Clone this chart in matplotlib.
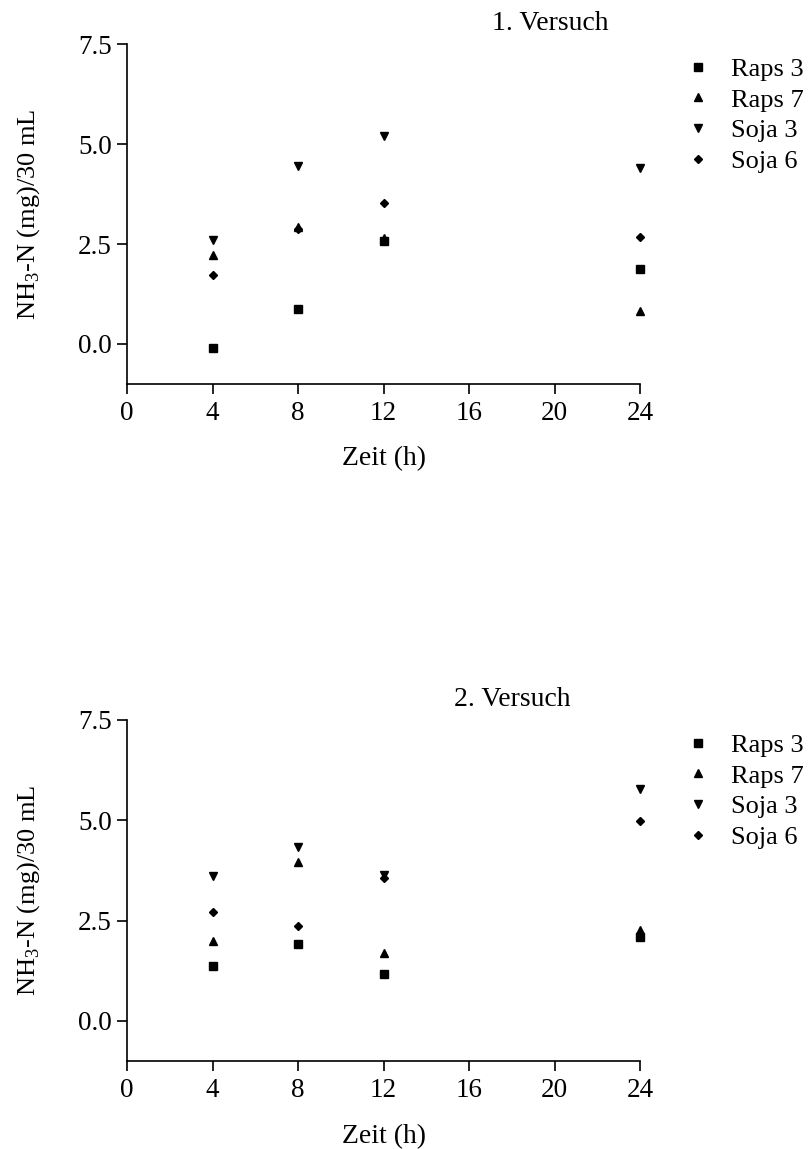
import matplotlib
matplotlib.use("Agg")
import matplotlib.pyplot as plt

# Zeitpunkte (h)
zeit = [4, 8, 12, 24]

# 1. Versuch
v1_raps3 = [-0.1, 0.87, 2.58, 1.87]
v1_raps7 = [2.23, 2.92, 2.65, 0.83]
v1_soja3 = [2.6, 4.45, 5.2, 4.4]
v1_soja6 = [1.73, 2.88, 3.52, 2.67]

# 2. Versuch
v2_raps3 = [1.38, 1.91, 1.17, 2.1]
v2_raps7 = [2.0, 3.97, 1.69, 2.27]
v2_soja3 = [3.62, 4.34, 3.64, 5.79]
v2_soja6 = [2.72, 2.37, 3.55, 4.97]

labels = ["Raps 3", "Raps 7", "Soja 3", "Soja 6"]
markers = ["s", "^", "v", "D"]
sizes = [5.5, 5.5, 5.5, 3.8]
xticks = [0, 4, 8, 12, 16, 20, 24]
yticks = [0.0, 2.5, 5.0, 7.5]

plt.rcParams["font.family"] = ["Liberation Serif", "DejaVu Serif"]
plt.rcParams["mathtext.fontset"] = "custom"
plt.rcParams["mathtext.rm"] = "Liberation Serif"


def draw(ax, series, title, title_x, title_y):
    for vals, lab, m, ms in zip(series, labels, markers, sizes):
        ax.plot(zeit, vals, linestyle="none", marker=m, markersize=ms,
                color="black", label=lab, clip_on=False)
    ax.set_xlim(0, 24)
    ax.set_ylim(-1.0, 7.5)
    ax.set_xticks(xticks)
    ax.set_yticks(yticks)
    ax.set_yticklabels([f"{t:.1f}" for t in yticks])
    ax.spines["top"].set_visible(False)
    ax.spines["right"].set_visible(False)
    ax.spines["left"].set_linewidth(1.2)
    ax.spines["bottom"].set_linewidth(1.2)
    ax.tick_params(direction="out", length=7, width=1.2, labelsize=19.5)
    ax.tick_params(axis="x", pad=5)
    ax.tick_params(axis="y", pad=4)
    ax.set_xlabel("Zeit (h)", fontsize=20)
    ax.set_ylabel("NH$_3$-N (mg)/30 mL", fontsize=19)
    ax.xaxis.set_label_coords(0.5, -0.184)
    ax.yaxis.set_label_coords(-0.166, 0.5)
    ax.legend(loc="upper left", bbox_to_anchor=(1.088, 0.96), frameon=False,
              fontsize=19, handlelength=1.0, handletextpad=0.75,
              labelspacing=0.27, borderaxespad=0, borderpad=0)
    fig.text(title_x, title_y, title, ha="center", va="center", fontsize=20)


fig = plt.figure(figsize=(8.11, 11.49), dpi=100)
ax1 = fig.add_axes([0.1566, 0.6658, 0.6326, 0.2959])
ax2 = fig.add_axes([0.1566, 0.0766, 0.6326, 0.2968])

draw(ax1, [v1_raps3, v1_raps7, v1_soja3, v1_soja6], "1. Versuch",
     550 / 811, 1 - 23 / 1149)
draw(ax2, [v2_raps3, v2_raps7, v2_soja3, v2_soja6], "2. Versuch",
     512 / 811, 1 - 699 / 1149)

fig.savefig("out.png", dpi=100)
